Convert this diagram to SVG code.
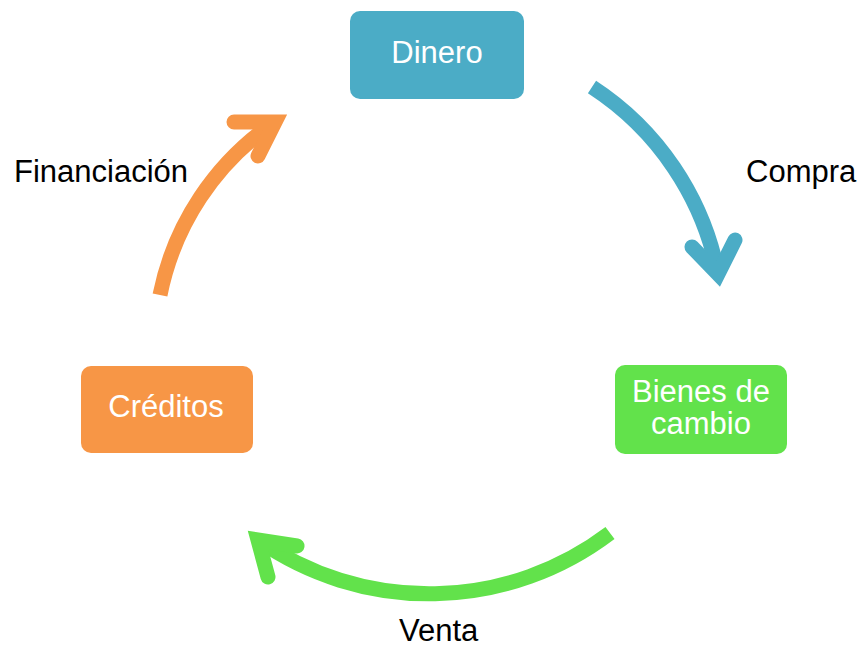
<svg xmlns="http://www.w3.org/2000/svg" width="859" height="648" viewBox="0 0 859 648">
<style>
.node text{font-family:"Liberation Sans",Arial,sans-serif;font-size:31px;fill:#fff;text-anchor:middle}
.lbl{font-family:"Liberation Sans",Arial,sans-serif;font-size:31px;fill:#000}
.shaft{fill:none;stroke-width:15;stroke-linecap:butt}
.head{fill:none;stroke-width:15;stroke-linecap:round;stroke-linejoin:miter;stroke-miterlimit:10}
.blue{stroke:#4BACC6}.green{stroke:#62E24B}.orange{stroke:#F79646}
</style>
<rect width="859" height="648" fill="#fff"/>
<g id="connectors">
<g id="compra">
<path class="shaft blue" d="M592,87 A289,289 0 0 1 718,274"/>
<polyline class="head blue" points="692,247 718,274 735,240"/>
</g>
<g id="venta">
<path class="shaft green" d="M610,533 A299,299 0 0 1 258,540"/>
<polyline class="head green" points="297,546 258,540 268,577"/>
</g>
<g id="financiacion">
<path class="shaft orange" d="M160,295 A274,274 0 0 1 275,122"/>
<polyline class="head orange" points="234,122 275,122 258,156"/>
</g>
</g>
<g id="node-dinero" class="node">
<rect x="350" y="11" width="174" height="88" rx="10" fill="#4BACC6"/>
<text x="437" y="63">Dinero</text>
</g>
<g id="node-bienes" class="node">
<rect x="615" y="365" width="172" height="89" rx="10" fill="#62E24B"/>
<text x="701" y="402">Bienes de</text>
<text x="701" y="434">cambio</text>
</g>
<g id="node-creditos" class="node">
<rect x="81" y="366" width="172" height="87" rx="10" fill="#F79646"/>
<text x="166" y="417">Créditos</text>
</g>
<g id="labels">
<text class="lbl" x="14" y="182">Financiación</text>
<text class="lbl" x="746" y="182">Compra</text>
<text class="lbl" x="399" y="641">Venta</text>
</g>
</svg>
